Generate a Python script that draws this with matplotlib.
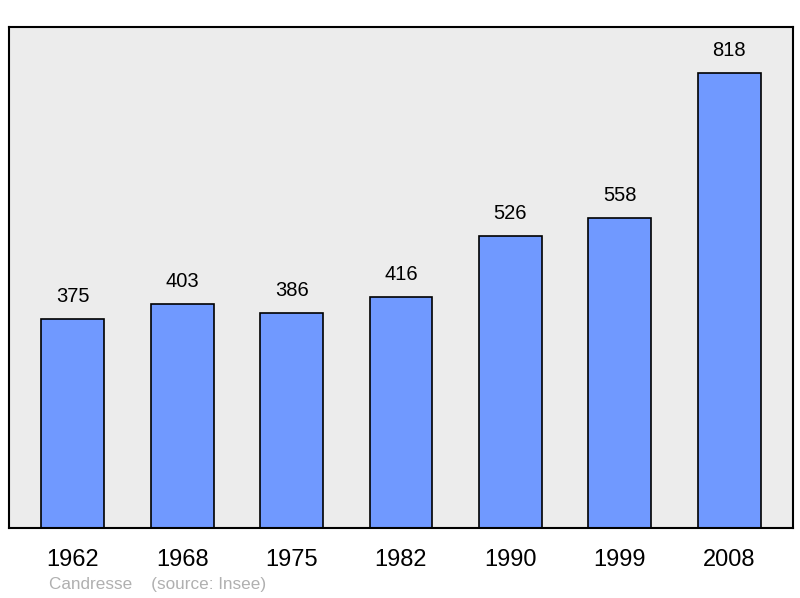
import matplotlib
matplotlib.use("Agg")
import matplotlib.pyplot as plt

years = ["1962", "1968", "1975", "1982", "1990", "1999", "2008"]
population = [375, 403, 386, 416, 526, 558, 818]

plt.rcParams['font.family'] = ['Liberation Sans', 'DejaVu Sans']
fig = plt.figure(figsize=(8, 5.98), dpi=100)
ax = fig.add_axes([9/800, 1-528/598, 784/800, 501/598])
ax.set_facecolor('#ececec')
x = list(range(len(years)))
ax.bar(x, population, width=0.576, color='#7099ff', edgecolor='black', linewidth=1.2, zorder=2)
for xi, v in zip(x, population):
    ax.text(xi, v + 13/0.556, str(v), ha='center', va='bottom', fontsize=14.5)
ax.set_xlim(-0.585, 6.585)
ax.set_ylim(0, 901)
ax.set_yticks([])
ax.set_xticks(x)
ax.set_xticklabels(years, fontsize=17)
ax.tick_params(axis='x', length=0, pad=15)
for s in ax.spines.values():
    s.set_linewidth(1.5)
fig.text(49/800, 1-584/598, "Candresse    (source: Insee)", color='#b0b0b0', fontsize=12.3, va='center')
fig.savefig("out.png", dpi=100)
